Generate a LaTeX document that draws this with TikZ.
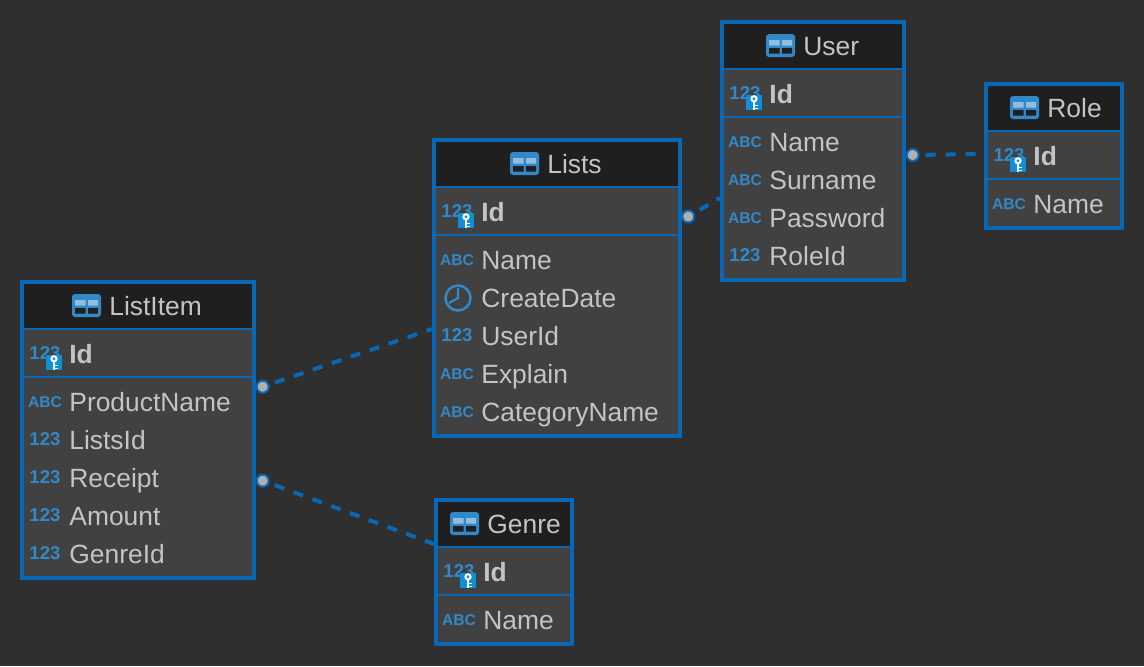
\documentclass[tikz,border=0pt]{standalone}
\usepackage{fontspec}
\setmainfont{Liberation Sans}
\definecolor{canvas}{HTML}{2F2F2F}
\definecolor{rowbg}{HTML}{414141}
\definecolor{headbg}{HTML}{1F1F1F}
\definecolor{edge}{HTML}{0868B6}
\definecolor{label}{HTML}{C4C4C4}
\definecolor{iconblue}{HTML}{3389C8}
\definecolor{keyblue}{HTML}{0F8FD6}
\definecolor{dotgrey}{HTML}{B0B0B0}

\begin{document}
\begin{tikzpicture}[x=0.5pt, y=-0.5pt,
    tablebox/.style = {draw=edge, fill=rowbg, line width=2pt, inner sep=0pt},
    tablehead/.style = {fill=headbg, inner sep=0pt},
    sepline/.style = {draw=edge, line width=1pt},
    tablename/.style = {anchor=base west, inner sep=0pt, text=label, font=\fontsize{13.2}{16}\selectfont},
    colname/.style = {tablename},
    keyname/.style = {tablename, font=\fontsize{13.2}{16}\selectfont\bfseries},
    numicon/.style = {anchor=base, inner sep=0pt, text=iconblue, font=\fontsize{9.3}{11}\selectfont\bfseries},
    abcicon/.style = {anchor=base, inner sep=0pt, text=iconblue, font=\fontsize{7.8}{9}\selectfont\bfseries},
    keybadge/.style = {fill=keyblue, inner sep=0pt, minimum width=8pt, minimum height=7.5pt,
        path picture={
            \begin{scope}[shift={(path picture bounding box.center)}, white]
                \draw[line width=1pt] (0,-3.7) circle (2.6);
                \draw[line width=1pt] (0,-1) -- (0,7);
                \draw[line width=0.7pt] (0,3) -- (3.5,3) (0,6) -- (3.5,6);
            \end{scope}}},
    tableicon/.style = {fill=iconblue, rounded corners=1.5pt, inner sep=0pt, minimum width=14.5pt, minimum height=11.5pt,
        path picture={
            \begin{scope}[shift={(path picture bounding box.center)}, sharp corners]
                \fill[iconblue!55!white] (-11.5,-5.5) rectangle (-1,0) (1.5,-5.5) rectangle (11.5,0);
                \fill[headbg] (-11.5,2.7) rectangle (-1,8) (1.5,2.7) rectangle (11.5,8);
            \end{scope}}},
    clockicon/.style = {circle, draw=iconblue, line width=1.25pt, inner sep=0pt, minimum size=12.5pt,
        path picture={
            \draw[iconblue, line width=1.1pt] ([yshift=5pt]path picture bounding box.center) -- (path picture bounding box.center) -- ++(-9,5);}},
    linkdot/.style = {circle, draw=edge, fill=dotgrey, line width=1pt, inner sep=0pt, minimum size=6pt},
    linkline/.style = {draw=edge, line width=2pt, dash pattern=on 5pt off 5pt, shorten <=3pt}]

    \fill[canvas] (0,0) rectangle (1144,666);

    % Lists
    \node[tablebox, minimum width=123pt, minimum height=148pt] (listsBox) at (557,288) {};
    \node[tablehead, minimum width=121pt, minimum height=22.5pt] (listsHead) at (557,164.5) {};
    \draw[sepline] (436,187) -- (678,187);
    \draw[sepline] (436,235) -- (678,235);
    \node[tableicon] (listsIcon) at (524.5,163.5) {};
    \node[tablename] (listsName) at (547,173) {Lists};
    \node[numicon] (listsIdNum) at (457,217.5) {123};
    \node[keybadge] (listsIdKey) at (466,220.5) {};
    \node[keyname] (listsId) at (481,221) {Id};
    \node[abcicon] (listsNameAbc) at (457,265.5) {ABC};
    \node[colname] (listsNameCol) at (481,269) {Name};
    \node[clockicon] (listsDateIcon) at (458,298) {};
    \node[colname] (listsDate) at (481,307) {CreateDate};
    \node[numicon] (listsUserNum) at (457,341.5) {123};
    \node[colname] (listsUser) at (481,345) {UserId};
    \node[abcicon] (listsExplainAbc) at (457,379.5) {ABC};
    \node[colname] (listsExplain) at (481,383) {Explain};
    \node[abcicon] (listsCatAbc) at (457,417.5) {ABC};
    \node[colname] (listsCat) at (481,421) {CategoryName};

    % User
    \node[tablebox, minimum width=91pt, minimum height=129pt] (userBox) at (813,151) {};
    \node[tablehead, minimum width=89pt, minimum height=22.5pt] (userHead) at (813,46.5) {};
    \draw[sepline] (724,69) -- (902,69);
    \draw[sepline] (724,117) -- (902,117);
    \node[tableicon] (userIcon) at (780.5,45.5) {};
    \node[tablename] (userName) at (803,55) {User};
    \node[numicon] (userIdNum) at (745,99.5) {123};
    \node[keybadge] (userIdKey) at (754,102.5) {};
    \node[keyname] (userId) at (769,103) {Id};
    \node[abcicon] (userNameAbc) at (745,147.5) {ABC};
    \node[colname] (userNameCol) at (769,151) {Name};
    \node[abcicon] (userSurAbc) at (745,185.5) {ABC};
    \node[colname] (userSur) at (769,189) {Surname};
    \node[abcicon] (userPassAbc) at (745,223.5) {ABC};
    \node[colname] (userPass) at (769,227) {Password};
    \node[numicon] (userRoleNum) at (745,261.5) {123};
    \node[colname] (userRole) at (769,265) {RoleId};

    % Role
    \node[tablebox, minimum width=68pt, minimum height=72pt] (roleBox) at (1054,156) {};
    \node[tablehead, minimum width=66pt, minimum height=22.5pt] (roleHead) at (1054,108.5) {};
    \draw[sepline] (988,131) -- (1120,131);
    \draw[sepline] (988,179) -- (1120,179);
    \node[tableicon] (roleIcon) at (1024.5,107.5) {};
    \node[tablename] (roleName) at (1047,117) {Role};
    \node[numicon] (roleIdNum) at (1009,161.5) {123};
    \node[keybadge] (roleIdKey) at (1018,164.5) {};
    \node[keyname] (roleId) at (1033,165) {Id};
    \node[abcicon] (roleNameAbc) at (1009,209.5) {ABC};
    \node[colname] (roleNameCol) at (1033,213) {Name};

    % ListItem
    \node[tablebox, minimum width=116pt, minimum height=148pt] (itemBox) at (138,430) {};
    \node[tablehead, minimum width=114pt, minimum height=22.5pt] (itemHead) at (138,306.5) {};
    \draw[sepline] (24,329) -- (252,329);
    \draw[sepline] (24,377) -- (252,377);
    \node[tableicon] (itemIcon) at (86.5,305.5) {};
    \node[tablename] (itemName) at (109,315) {ListItem};
    \node[numicon] (itemIdNum) at (45,359.5) {123};
    \node[keybadge] (itemIdKey) at (54,362.5) {};
    \node[keyname] (itemId) at (69,363) {Id};
    \node[abcicon] (itemProdAbc) at (45,407.5) {ABC};
    \node[colname] (itemProd) at (69,411) {ProductName};
    \node[numicon] (itemListsNum) at (45,445.5) {123};
    \node[colname] (itemLists) at (69,449) {ListsId};
    \node[numicon] (itemReceiptNum) at (45,483.5) {123};
    \node[colname] (itemReceipt) at (69,487) {Receipt};
    \node[numicon] (itemAmountNum) at (45,521.5) {123};
    \node[colname] (itemAmount) at (69,525) {Amount};
    \node[numicon] (itemGenreNum) at (45,559.5) {123};
    \node[colname] (itemGenre) at (69,563) {GenreId};

    % Genre
    \node[tablebox, minimum width=68pt, minimum height=72pt] (genreBox) at (504,572) {};
    \node[tablehead, minimum width=66pt, minimum height=22.5pt] (genreHead) at (504,524.5) {};
    \draw[sepline] (438,547) -- (570,547);
    \draw[sepline] (438,595) -- (570,595);
    \node[tableicon] (genreIcon) at (464.5,523.5) {};
    \node[tablename] (genreName) at (487,533) {Genre};
    \node[numicon] (genreIdNum) at (459,577.5) {123};
    \node[keybadge] (genreIdKey) at (468,580.5) {};
    \node[keyname] (genreId) at (483,581) {Id};
    \node[abcicon] (genreNameAbc) at (459,625.5) {ABC};
    \node[colname] (genreNameCol) at (483,629) {Name};

    % links
    \node[linkdot] (listsDot) at (688.3,216.5) {};
    \node[linkdot] (userDot) at (912.7,155) {};
    \node[linkdot] (itemDotA) at (262.7,386.7) {};
    \node[linkdot] (itemDotB) at (262.7,480.7) {};
    \coordinate (userEnd) at (720,198);
    \coordinate (roleEnd) at (984,154);
    \coordinate (listsEnd) at (432,329);
    \coordinate (genreEnd) at (434,544);

    \draw[linkline] (listsDot) -- (userEnd);
    \draw[linkline] (userDot) -- (roleEnd);
    \draw[linkline] (itemDotA) -- (listsEnd);
    \draw[linkline] (itemDotB) -- (genreEnd);
\end{tikzpicture}
\end{document}
